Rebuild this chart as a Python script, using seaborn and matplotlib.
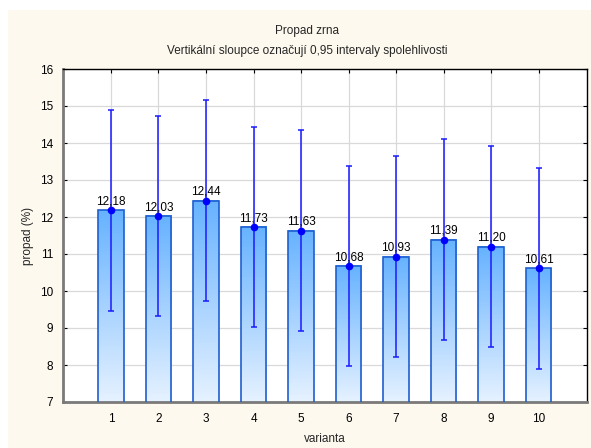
import matplotlib
matplotlib.use("Agg")
import matplotlib.pyplot as plt
from matplotlib.colors import LinearSegmentedColormap
from matplotlib.patches import Rectangle
import numpy as np
import pandas as pd
import seaborn as sns

# data
varianta = ["1", "2", "3", "4", "5", "6", "7", "8", "9", "10"]
propad = [12.18, 12.03, 12.44, 11.73, 11.63, 10.68, 10.93, 11.39, 11.20, 10.61]
ci_upper = [14.89, 14.74, 15.15, 14.44, 14.34, 13.39, 13.64, 14.10, 13.91, 13.32]
ci_lower = [9.47, 9.32, 9.73, 9.02, 8.92, 7.97, 8.22, 8.68, 8.49, 7.90]
yticks = [7, 8, 9, 10, 11, 12, 13, 14, 15, 16]

sns.set_style("white")
plt.rcParams['font.family'] = ['Liberation Sans', 'DejaVu Sans']

df = pd.DataFrame({"varianta": varianta, "propad": propad})

fig = plt.figure(figsize=(5.91, 4.48), dpi=100, facecolor='white')
# cream panel behind the chart
bg = Rectangle((8 / 591, 0), 1, 1 - 10 / 448, transform=fig.transFigure,
               facecolor='#fdf9ee', edgecolor='none', zorder=-10)
fig.add_artist(bg)
ax = fig.add_axes([63 / 591, 1 - 402 / 448, 524 / 591, 333 / 448])
ax.set_zorder(1)
ax.set_facecolor('white')

sns.barplot(data=df, x="varianta", y="propad", width=0.53, fill=False,
            edgecolor='#1f5fd0', linewidth=1.2, errorbar=None, ax=ax, zorder=3)

ymin, ymax = 7, 16
cmap = LinearSegmentedColormap.from_list("bar", ["#e6f2ff", "#66b2ff"])
grad = np.linspace(0, 1, 256).reshape(-1, 1)
for p in ax.patches:
    x0 = p.get_x()
    x1 = x0 + p.get_width()
    top = p.get_height()
    ax.imshow(grad, cmap=cmap, origin='lower', aspect='auto',
              extent=[x0, x1, ymin, top], zorder=2, interpolation='bilinear')

xs = np.arange(len(varianta))
err = [np.array(propad) - np.array(ci_lower), np.array(ci_upper) - np.array(propad)]
ax.errorbar(xs, propad, yerr=err, fmt='o', color='#0000ff', ecolor='#1a1aff',
            elinewidth=1.1, capsize=2.3, capthick=1.1, markersize=4.5, zorder=5)

for x, v in zip(xs, propad):
    ax.annotate(f"{v:.2f}".replace(".", ","), (x, v), xytext=(0, 2),
                textcoords='offset points', ha='center', va='bottom',
                fontsize=8.5, color='black', zorder=6)

ax.set_xlim(-1.01, 10.02)
ax.set_ylim(ymin, ymax)
ax.set_yticks(yticks)
ax.grid(True, color='#d9d9d9', linewidth=0.9, zorder=0)
ax.set_axisbelow(True)

ax.tick_params(direction='in', length=3, width=0.8, labelsize=8.5, colors='black',
               top=True, right=True, bottom=True, left=True)
ax.tick_params(axis='y', pad=7)
ax.tick_params(axis='x', pad=8)
for s in ['left', 'bottom']:
    ax.spines[s].set_color('#7a7a7a')
    ax.spines[s].set_linewidth(2)
for s in ['top', 'right']:
    ax.spines[s].set_color('black')
    ax.spines[s].set_linewidth(1)
    ax.spines[s].set_visible(True)

ax.set_xlabel("varianta", fontsize=8.5, labelpad=6)
ax.set_ylabel("propad (%)", fontsize=8.5, labelpad=4)
ax.set_title("Propad zrna\nVertikální sloupce označují 0,95 intervaly spolehlivosti",
             fontsize=8.5, x=0.466, pad=11, linespacing=1.85)

fig.savefig("out.png", dpi=100, facecolor=fig.get_facecolor())
